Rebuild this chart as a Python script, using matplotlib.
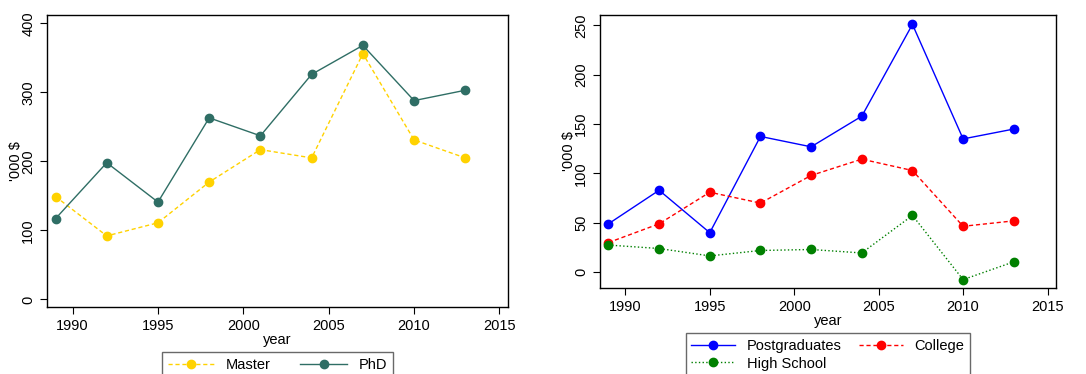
import numpy as np
import matplotlib.pyplot as plt

plt.rcParams['font.family'] = ['Liberation Sans', 'DejaVu Sans']

years = [1989, 1992, 1995, 1998, 2001, 2004, 2007, 2010, 2013]

# left panel
master = [149, 92, 111, 170, 217, 205, 356, 231, 205]
phd = [117, 198, 141, 263, 237, 326, 368, 288, 303]

# right panel
postgrad = [49, 83, 40, 137.5, 127, 158, 251, 135, 145]
college = [30, 49, 81, 70, 98, 114.5, 103, 46.5, 52]
highschool = [27.5, 24, 16.5, 22, 23, 19.5, 57.5, -7.5, 10.5]

xticks = [1990, 1995, 2000, 2005, 2010, 2015]

fig = plt.figure(figsize=(10.86, 3.74), dpi=100)
ax1 = fig.add_axes([47/1086, 1 - 307/374, 461/1086, 292/374])
ax2 = fig.add_axes([600/1086, 1 - 288/374, 456/1086, 273/374])

gold = "#FFD200"
teal = "#2F6E65"

ax1.plot(years, master, color=gold, ls="--", lw=1, marker="o", ms=6, label="Master", dashes=(3, 2))
ax1.plot(years, phd, color=teal, ls="-", lw=1, marker="o", ms=6, label="PhD")
ax1.set_xlim(1988.5, 2015.5)
ax1.set_ylim(-11, 412)
ax1.set_yticks([0, 100, 200, 300, 400])

l_pg, = ax2.plot(years, postgrad, color="blue", ls="-", lw=1, marker="o", ms=6, label="Postgraduates")
l_co, = ax2.plot(years, college, color="red", ls="--", lw=1, marker="o", ms=6, label="College", dashes=(3, 2))
l_hs, = ax2.plot(years, highschool, color="green", ls=":", lw=1, marker="o", ms=6, label="High School")
ax2.set_xlim(1988.5, 2015.5)
ax2.set_ylim(-16, 260.5)
ax2.set_yticks([0, 50, 100, 150, 200, 250])

for ax in (ax1, ax2):
    ax.set_xticks(xticks)
    ax.tick_params(labelsize=10.5, length=5, width=0.8)
    for lab in ax.get_yticklabels():
        lab.set_rotation(90)
        lab.set_va("center")
    ax.set_xlabel("year", fontsize=10.5, labelpad=0)
    ax.set_ylabel("'000 $", fontsize=10.5, labelpad=-1)
    for s in ax.spines.values():
        s.set_linewidth(1.0)

ax1.legend(loc="upper center", bbox_to_anchor=(0.5, -0.154), ncol=2, fontsize=10.5,
           frameon=True, fancybox=False, edgecolor="#444444", handlelength=3.2,
           columnspacing=2.0, borderpad=0.4, borderaxespad=0, numpoints=1)
ax2.legend([l_pg, l_hs, l_co], ["Postgraduates", "High School", "College"],
           loc="upper center", bbox_to_anchor=(0.5, -0.165), ncol=2, fontsize=10.5,
           frameon=True, fancybox=False, edgecolor="#444444", handlelength=3.0,
           columnspacing=1.2, borderpad=0.4, labelspacing=0.25, borderaxespad=0,
           numpoints=1)

fig.savefig("out.png", dpi=100)
